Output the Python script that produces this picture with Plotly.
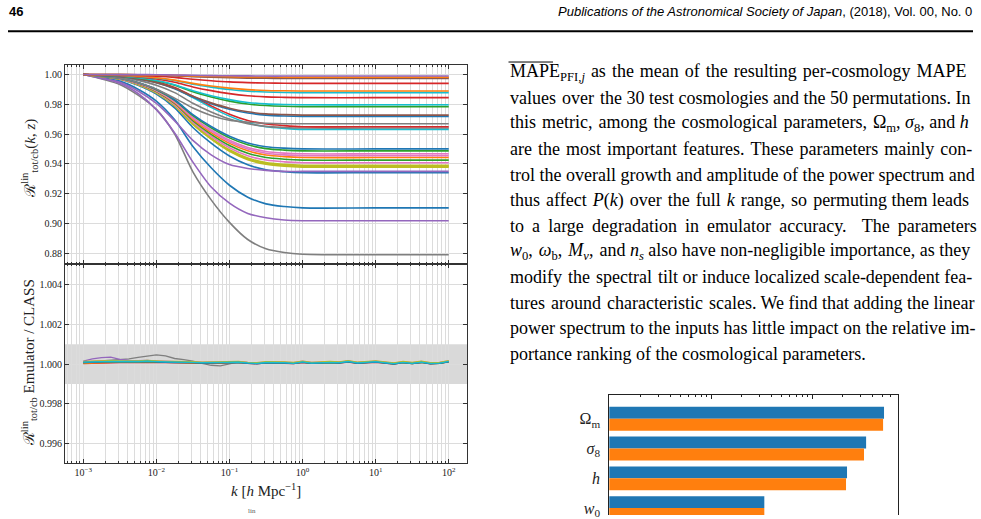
import plotly.graph_objects as go

W, H = 981, 519


def px(x):
    return x / W


def py(y):
    return 1 - y / H


TAB = {"blue": "#1f77b4", "orange": "#ff7f0e", "green": "#2ca02c", "red": "#d62728",
       "purple": "#9467bd", "brown": "#8c564b", "pink": "#e377c2", "gray": "#7f7f7f",
       "olive": "#bcbd22", "cyan": "#17becf"}

# ---------------- top panel data: R_lin(k) ----------------
K_TOP = [0.001, 0.00316, 0.00562, 0.01, 0.0178, 0.0316, 0.0562, 0.1, 0.178, 0.316, 0.562, 1.0, 10.0, 100.0]

c01 = [1.0, 0.9999, 0.9999, 0.9998, 0.9996, 0.9994, 0.9992, 0.9991, 0.9990, 0.9989, 0.9989, 0.9989, 0.9989, 0.9989]
c02 = [1.0, 0.9999, 0.9998, 0.9996, 0.9994, 0.9990, 0.9987, 0.9985, 0.9983, 0.9983, 0.9982, 0.9982, 0.9982, 0.9982]
c03 = [1.0, 0.9999, 0.9997, 0.9995, 0.9991, 0.9985, 0.9981, 0.9978, 0.9975, 0.9974, 0.9973, 0.9973, 0.9973, 0.9973]
c04 = [1.0, 0.9999, 0.9998, 0.9996, 0.9993, 0.9988, 0.9985, 0.9982, 0.9980, 0.9979, 0.9978, 0.9978, 0.9978, 0.9978]
c05 = [1.0, 0.9997, 0.9993, 0.9988, 0.9980, 0.9968, 0.9958, 0.9950, 0.9945, 0.9942, 0.9941, 0.9940, 0.9940, 0.9940]
c06 = [1.0, 0.9994, 0.9988, 0.9978, 0.9962, 0.9940, 0.9922, 0.9908, 0.9898, 0.9892, 0.9890, 0.9889, 0.9889, 0.9889]
c07 = [1.0, 0.9994, 0.9987, 0.9976, 0.9959, 0.9934, 0.9915, 0.9899, 0.9888, 0.9882, 0.9879, 0.9878, 0.9878, 0.9878]
c08 = [1.0, 0.9992, 0.9983, 0.9969, 0.9947, 0.9916, 0.9891, 0.9871, 0.9857, 0.9849, 0.9846, 0.9844, 0.9844, 0.9844]
c09 = [1.0, 0.9990, 0.9978, 0.9959, 0.9931, 0.9890, 0.9857, 0.9831, 0.9812, 0.9802, 0.9798, 0.9796, 0.9796, 0.9796]
c10 = [1.0, 0.9989, 0.9976, 0.9957, 0.9927, 0.9883, 0.9849, 0.9821, 0.9801, 0.9791, 0.9786, 0.9784, 0.9784, 0.9784]
c11 = [1.0, 0.9986, 0.9970, 0.9945, 0.9907, 0.9853, 0.9809, 0.9773, 0.9749, 0.9735, 0.9730, 0.9727, 0.9727, 0.9727]
c12 = [1.0, 0.9986, 0.9969, 0.9944, 0.9904, 0.9848, 0.9803, 0.9766, 0.9741, 0.9727, 0.9721, 0.9718, 0.9718, 0.9718]
c13 = [1.0, 0.9974, 0.9944, 0.9901, 0.9841, 0.9775, 0.9725, 0.9692, 0.9679, 0.9672, 0.9669, 0.9669, 0.9669, 0.9669]
c14 = [1.0, 0.9990, 0.9975, 0.9951, 0.9912, 0.9853, 0.9789, 0.9733, 0.9691, 0.9667, 0.9656, 0.9649, 0.9649, 0.9649]
c15 = [1.0, 0.9982, 0.9960, 0.9928, 0.9878, 0.9806, 0.9748, 0.9701, 0.9669, 0.9651, 0.9644, 0.9640, 0.9640, 0.9640]
c16 = [1.0, 0.9989, 0.9974, 0.9948, 0.9908, 0.9845, 0.9779, 0.9720, 0.9675, 0.9649, 0.9638, 0.9631, 0.9631, 0.9631]
c17 = [1.0, 0.9975, 0.9945, 0.9900, 0.9830, 0.9730, 0.9650, 0.9585, 0.9540, 0.9515, 0.9505, 0.9500, 0.9500, 0.9500]
c18 = [1.0, 0.9974, 0.9944, 0.9897, 0.9826, 0.9723, 0.9641, 0.9574, 0.9528, 0.9502, 0.9492, 0.9487, 0.9487, 0.9487]
c19 = [1.0, 0.9973, 0.9941, 0.9893, 0.9819, 0.9712, 0.9627, 0.9558, 0.9510, 0.9483, 0.9472, 0.9467, 0.9467, 0.9467]
c20 = [1.0, 0.9973, 0.9940, 0.9891, 0.9815, 0.9706, 0.9619, 0.9548, 0.9499, 0.9471, 0.9460, 0.9455, 0.9455, 0.9455]
c21 = [1.0, 0.9972, 0.9939, 0.9888, 0.9810, 0.9699, 0.9609, 0.9537, 0.9487, 0.9459, 0.9448, 0.9442, 0.9442, 0.9442]
c22 = [1.0, 0.9971, 0.9937, 0.9885, 0.9805, 0.9690, 0.9598, 0.9523, 0.9471, 0.9442, 0.9431, 0.9425, 0.9425, 0.9425]
c23 = [1.0, 0.9970, 0.9935, 0.9881, 0.9798, 0.9680, 0.9585, 0.9508, 0.9454, 0.9425, 0.9413, 0.9407, 0.9407, 0.9407]
c24 = [1.0, 0.9969, 0.9932, 0.9877, 0.9791, 0.9667, 0.9569, 0.9489, 0.9433, 0.9403, 0.9390, 0.9384, 0.9384, 0.9384]
c25 = [1.0, 0.9969, 0.9932, 0.9876, 0.9789, 0.9664, 0.9565, 0.9484, 0.9428, 0.9397, 0.9384, 0.9378, 0.9378, 0.9378]
c26 = [1.0, 0.9970, 0.9933, 0.9878, 0.9793, 0.9671, 0.9573, 0.9494, 0.9439, 0.9408, 0.9396, 0.9390, 0.9390, 0.9390]
c27 = [1.0, 0.9948, 0.9889, 0.9805, 0.9688, 0.9557, 0.9460, 0.9395, 0.9369, 0.9356, 0.9349, 0.9349, 0.9349, 0.9349]
c28 = [1.0, 0.9967, 0.9927, 0.9868, 0.9776, 0.9644, 0.9538, 0.9452, 0.9393, 0.9360, 0.9347, 0.9340, 0.9340, 0.9340]
c29 = [1.0, 0.9955, 0.9901, 0.9821, 0.9695, 0.9516, 0.9373, 0.9256, 0.9176, 0.9131, 0.9113, 0.9104, 0.9104, 0.9104]
c30 = [1.0, 0.9941, 0.9872, 0.9764, 0.9607, 0.9411, 0.9244, 0.9136, 0.9067, 0.9038, 0.9023, 0.9018, 0.9018, 0.9018]
c31 = [1.0, 0.9933, 0.9861, 0.9765, 0.9600, 0.9346, 0.9158, 0.9007, 0.8892, 0.8829, 0.8804, 0.8793, 0.8789, 0.8789]

TOP_CURVES = [c31, c30, c29, c28, c27, c26, c25, c24, c23, c22, c21, c20, c19, c18, c17,
              c16, c15, c14, c13, c12, c11, c10, c09, c08, c07, c06, c05, c04, c03, c02, c01]
TOP_COLORS = ["gray", "purple", "blue", "blue", "purple", "olive", "olive", "olive", "pink", "green",
              "orange", "pink", "pink", "green", "blue", "cyan", "gray", "red", "gray", "blue",
              "brown", "green", "cyan", "red", "cyan", "orange", "red", "brown", "brown", "orange", "purple"]

# ---------------- bottom panel data: emulator / CLASS, deviations in units of 1e-4 ----------------
LOGK_BOT = [-3.0, -2.875, -2.75, -2.625, -2.5, -2.375, -2.25, -2.125, -2.0, -1.875, -1.75, -1.625,
            -1.5, -1.375, -1.25, -1.125, -1.0, -0.875, -0.75, -0.625, -0.5, -0.375, -0.25, -0.125,
            0.0, 0.125, 0.25, 0.375, 0.5, 0.625, 0.75, 0.875, 1.0, 1.125, 1.25, 1.375, 1.5, 1.625,
            1.75, 1.875, 2.0]
dev_gray = [1.0, 1.3, 1.6, 1.8, 2.1, 2.6, 3.4, 3.9, 4.6, 4.1, 2.8, 2.2, 1.5, 0.4, -0.6, -0.9, 0.1, 1.1, 0.7, 0.4,
            0.9, 1.0, 0.8, 0.5, 1.2, 0.6, 0.9, 1.0, 0.8, 1.4, 0.7, 0.9, 1.3, 0.8, 0.3, 1.0, 0.5, 1.1, 0.4, 0.6, 1.4]
dev_purple = [1.5, 2.6, 3.2, 3.5, 2.4, 1.8, 1.7, 1.9, 1.5, 1.3, 1.2, 1.2, 1.0, 0.8, 0.9, 0.7, 1.0, 1.1, 0.7, 0.4,
              0.9, 1.0, 0.8, 0.5, 1.2, 0.6, 0.9, 1.0, 0.8, 1.4, 0.7, 0.9, 1.3, 0.8, 0.3, 1.0, 0.5, 1.1, 0.4, 0.6, 1.4]
dev_red = [0.2, 0.4, 0.6, 0.9, 0.8, 0.7, 0.8, 1.0, 0.8, 0.7, 0.6, 0.8, 0.6, 0.4, 0.6, 0.4, 0.7, 0.8, 0.4, 0.1,
           0.6, 0.6, 0.4, 0.2, 0.8, 0.3, 0.6, 0.7, 0.5, 1.0, 0.4, 0.6, 0.9, 0.5, 0.0, 0.7, 0.2, 0.8, 0.1, 0.3, 1.1]
dev_orange = [0.4, 0.6, 0.8, 1.0, 1.0, 0.9, 1.0, 1.1, 1.0, 0.9, 0.8, 0.9, 0.8, 0.6, 0.7, 0.5, 0.8, 0.9, 0.6, 0.3,
              0.8, 0.8, 0.6, 0.4, 1.0, 0.5, 0.8, 0.9, 0.7, 1.2, 0.6, 0.8, 1.1, 0.7, 0.2, 0.9, 0.4, 1.0, 0.3, 0.5, 1.2]
dev_green = [0.8, 1.0, 1.1, 1.2, 1.1, 1.0, 1.1, 1.3, 1.0, 0.9, 0.9, 1.0, 0.8, 0.6, 0.7, 0.5, 0.8, 0.9, 0.5, 0.3,
             0.7, 0.8, 0.6, 0.3, 1.0, 0.4, 0.7, 0.8, 0.6, 1.2, 0.5, 0.7, 1.1, 0.6, 0.1, 0.8, 0.3, 0.9, 0.2, 0.4, 1.2]
dev_pink = [1.2, 1.4, 1.5, 1.6, 1.5, 1.4, 1.5, 1.7, 1.4, 1.3, 1.2, 1.3, 1.1, 0.9, 1.0, 0.8, 1.1, 1.2, 0.8, 0.6,
            1.1, 1.2, 1.0, 0.7, 1.4, 0.8, 1.1, 1.2, 1.0, 1.6, 0.9, 1.1, 1.5, 1.0, 0.5, 1.2, 0.7, 1.3, 0.6, 0.8, 1.6]
dev_olive = [1.3, 1.5, 1.6, 1.7, 1.6, 1.5, 1.6, 1.8, 1.5, 1.4, 1.3, 1.4, 1.2, 1.0, 1.1, 0.9, 1.2, 1.3, 0.9, 0.7,
             1.2, 1.3, 1.1, 0.8, 1.5, 0.9, 1.2, 1.3, 1.1, 1.7, 1.0, 1.2, 1.6, 1.1, 0.6, 1.3, 0.8, 1.4, 0.7, 0.9, 1.7]
dev_blue = [0.8, 1.0, 1.1, 1.2, 1.1, 1.0, 1.1, 1.3, 1.0, 0.9, 0.8, 0.9, 0.7, 0.5, 0.6, 0.4, 0.7, 0.8, 0.4, 0.1,
            0.6, 0.7, 0.5, 0.2, 0.9, 0.3, 0.6, 0.7, 0.5, 1.1, 0.4, 0.6, 1.0, 0.5, 0.0, 0.7, 0.2, 0.8, 0.1, 0.3, 1.1]
dev_cyan = [1.0, 1.2, 1.3, 1.4, 1.3, 1.2, 1.3, 1.5, 1.2, 1.1, 1.0, 1.1, 0.9, 0.7, 0.8, 0.6, 0.9, 1.0, 0.6, 0.3,
            0.8, 0.9, 0.7, 0.4, 1.1, 0.5, 0.8, 0.9, 0.7, 1.3, 0.6, 0.8, 1.2, 0.7, 0.2, 0.9, 0.4, 1.0, 0.3, 0.5, 1.3]
BOT_CURVES = [("gray", dev_gray), ("purple", dev_purple), ("red", dev_red), ("orange", dev_orange),
              ("green", dev_green), ("pink", dev_pink), ("olive", dev_olive), ("blue", dev_blue), ("cyan", dev_cyan)]

# ---------------- bar chart data (cut off at page bottom) ----------------
PARAMS = ["Ω<sub>m</sub>", "<i>σ</i><sub>8</sub>", "<i>h</i>", "<i>w</i><sub>0</sub>"]
MAPE_NO_PLIN = [0.516, 0.343, 0.222, 0.0337]
MAPE_WITH_PLIN = [0.505, 0.327, 0.217, 0.0337]

# axis tick definitions
K_MAJOR = [0.001, 0.01, 0.1, 1.0, 10.0, 100.0]
K_MAJOR_TEXT = ["10<sup>−3</sup>", "10<sup>−2</sup>", "10<sup>−1</sup>", "10<sup>0</sup>", "10<sup>1</sup>", "10<sup>2</sup>"]
K_MINOR = [m * 10.0 ** e for e in range(-4, 3) for m in range(2, 10)]

fig = go.Figure()

for vals, cname in zip(TOP_CURVES, TOP_COLORS):
    fig.add_trace(go.Scatter(x=K_TOP, y=vals, mode="lines", line=dict(color=TAB[cname], width=1.6, shape="spline", smoothing=0.8),
                             xaxis="x", yaxis="y", showlegend=False, hoverinfo="skip"))

K_BOT = [10 ** v for v in LOGK_BOT]
for cname, dev in BOT_CURVES:
    fig.add_trace(go.Scatter(x=K_BOT, y=[1 + d * 1e-4 for d in dev], mode="lines",
                             line=dict(color=TAB[cname], width=1.3), xaxis="x2", yaxis="y2",
                             showlegend=False, hoverinfo="skip"))

fig.add_trace(go.Bar(y=PARAMS, x=MAPE_NO_PLIN, orientation="h", marker=dict(color="#1f77b4", line=dict(width=0)),
                     xaxis="x3", yaxis="y3", showlegend=False))
fig.add_trace(go.Bar(y=PARAMS, x=MAPE_WITH_PLIN, orientation="h", marker=dict(color="#ff7f0e", line=dict(width=0)),
                     xaxis="x3", yaxis="y3", showlegend=False))

FRAME = "#333333"
GRID = "#dcdcdc"
TICKFONT = dict(family="Liberation Serif", size=10, color="#222")

xcommon = dict(type="log", range=[-3.25, 2.25], tickmode="array", tickvals=K_MAJOR, ticktext=K_MAJOR_TEXT,
               ticks="inside", ticklen=4, tickcolor=FRAME, mirror="allticks", showline=True, linecolor=FRAME,
               linewidth=1, showgrid=True, gridcolor=GRID, gridwidth=1, zeroline=False,
               minor=dict(tickmode="array", tickvals=K_MINOR, ticks="inside", ticklen=2, tickcolor=FRAME,
                          showgrid=True, gridcolor=GRID, gridwidth=1),
               tickfont=dict(family="Liberation Serif", size=10, color="#222"))
ycommon = dict(ticks="inside", ticklen=4, tickcolor=FRAME, mirror="allticks", showline=True, linecolor=FRAME,
               linewidth=1, showgrid=True, gridcolor=GRID, gridwidth=1, zeroline=False, tickfont=TICKFONT)

XD = [px(65), px(467)]
fig.update_layout(
    width=W, height=H, margin=dict(l=0, r=0, t=0, b=0), paper_bgcolor="white", plot_bgcolor="white",
    barmode="group", bargap=0.2, bargroupgap=0.0,
    xaxis=dict(domain=XD, anchor="y", showticklabels=False, **{k: v for k, v in xcommon.items() if k != "tickfont"}),
    yaxis=dict(domain=[py(265.8), py(66)], anchor="x", range=[0.8729, 1.006], tickmode="array",
               tickvals=[0.88, 0.90, 0.92, 0.94, 0.96, 0.98, 1.00],
               ticktext=["0.88", "0.90", "0.92", "0.94", "0.96", "0.98", "1.00"], **ycommon),
    xaxis2=dict(domain=XD, anchor="y2", **xcommon),
    yaxis2=dict(domain=[py(467), py(265.8)], anchor="x2", range=[0.99502, 1.00503], tickmode="array",
                tickvals=[0.996, 0.998, 1.000, 1.002, 1.004],
                ticktext=["0.996", "0.998", "1.000", "1.002", "1.004"], **ycommon),
    xaxis3=dict(domain=[px(609.3), px(898.3)], anchor="y3", side="top", type="log", range=[-3.007, -0.146],
                tickmode="array", tickvals=[0.001, 0.01, 0.1], showticklabels=False, ticks="inside", ticklen=4,
                tickcolor="#222", showline=True, linecolor="#222", linewidth=1, showgrid=False, zeroline=False,
                minor=dict(tickmode="array", tickvals=K_MINOR, ticks="inside", ticklen=2, tickcolor="#222")),
    yaxis3=dict(domain=[0, py(397.7)], anchor="x3", type="category", categoryorder="array", categoryarray=PARAMS,
                range=[3.233, -0.81], showline=True, mirror=True, linecolor="#222", linewidth=1, ticks="",
                showgrid=False, zeroline=False, ticklabelstandoff=5,
                tickfont=dict(family="Liberation Serif", size=16, color="#222")),
)

shapes = []
# header rule
shapes.append(dict(type="line", xref="paper", yref="paper", x0=px(8), x1=px(973), y0=py(31.5), y1=py(31.5),
                   line=dict(color="black", width=2)))
# +-0.1% band in the ratio panel
shapes.append(dict(type="rect", xref="x2 domain", yref="y2", x0=0, x1=1, y0=0.999, y1=1.001,
                   fillcolor="rgba(128,128,128,0.3)", line=dict(width=0), layer="below"))
# overline on MAPE
shapes.append(dict(type="line", xref="paper", yref="paper", x0=px(508.5), x1=px(553), y0=py(62.5), y1=py(62.5),
                   line=dict(color="black", width=1)))
fig.update_layout(shapes=shapes)

ann = []
ann.append(dict(text="<b>46</b>", x=px(7), y=py(12), xref="paper", yref="paper", xanchor="left", yanchor="middle",
                showarrow=False, font=dict(family="Liberation Sans", size=13, color="black")))
ann.append(dict(text="<i>Publications of the Astronomical Society of Japan</i>, (2018), Vol. 00, No. 0",
                x=px(974), y=py(12), xref="paper", yref="paper", xanchor="right", yanchor="middle",
                showarrow=False, font=dict(family="Liberation Sans", size=13, color="black")))
# axis titles
ann.append(dict(text="ℛ<sup>lin</sup><sub>tot/cb</sub>(<i>k</i>, <i>z</i>)", x=px(29), y=py(160), xref="paper",
                yref="paper", textangle=-90, showarrow=False, xanchor="center", yanchor="middle",
                font=dict(family="Liberation Serif", size=15, color="#222")))
ann.append(dict(text="ℛ<sup>lin</sup><sub>tot/cb</sub> Emulator / CLASS", x=px(29), y=py(366), xref="paper",
                yref="paper", textangle=-90, showarrow=False, xanchor="center", yanchor="middle",
                font=dict(family="Liberation Serif", size=15, color="#222")))
ann.append(dict(text="<i>k</i> [<i>h</i> Mpc<sup>−1</sup>]", x=px(266), y=py(494), xref="paper", yref="paper",
                showarrow=False, xanchor="center", yanchor="middle",
                font=dict(family="Liberation Serif", size=15, color="#222")))
ann.append(dict(text="lin", x=px(252), y=py(515), xref="paper", yref="paper", showarrow=False,
                xanchor="center", yanchor="middle", font=dict(family="Liberation Serif", size=7, color="#555")))

HAIR = "\u200a"
THIN = "\u2009"


def widen(text, pad, count=-1):
    """Approximate the justified typesetting by padding inter-word spaces."""
    return text.replace(" ", " " + pad, count)


LINES = [
    widen("MAPE<sub>PFI,<i>j</i></sub> as the mean of the resulting per-cosmology MAPE", HAIR),
    widen("values over the 30 test cosmologies and the 50 permutations. In", HAIR, 2),
    widen("this metric, among the cosmological parameters, Ω<sub>m</sub>, <i>σ</i><sub>8</sub>, and <i>h</i>", HAIR, 6),
    widen("are the most important features. These parameters mainly con-", HAIR),
    "trol the overall growth and amplitude of the power spectrum and",
    widen("thus affect <i>P</i>(<i>k</i>) over the full <i>k</i> range, so permuting them leads", HAIR, 9),
    widen("to a large degradation in emulator accuracy. The parameters", THIN).replace(". ", ". " + THIN + THIN),
    widen("<i>w</i><sub>0</sub>, <i>ω</i><sub>b</sub>, <i>M<sub>ν</sub></i>, and <i>n<sub>s</sub></i> also have non-negligible importance, as they", HAIR, 3),
    widen("modify the spectral tilt or induce localized scale-dependent fea-", HAIR, 3),
    widen("tures around characteristic scales. We find that adding the linear", HAIR, 3),
    "power spectrum to the inputs has little impact on the relative im-",
    "portance ranking of the cosmological parameters.",
]
for i, t in enumerate(LINES):
    ann.append(dict(text=t, x=px(508), y=py(73 + 25.8 * i), xref="paper", yref="paper", xanchor="left",
                    yanchor="middle", showarrow=False, font=dict(family="Liberation Serif", size=18, color="black")))
fig.update_layout(annotations=ann)

fig.write_html("out.html")
